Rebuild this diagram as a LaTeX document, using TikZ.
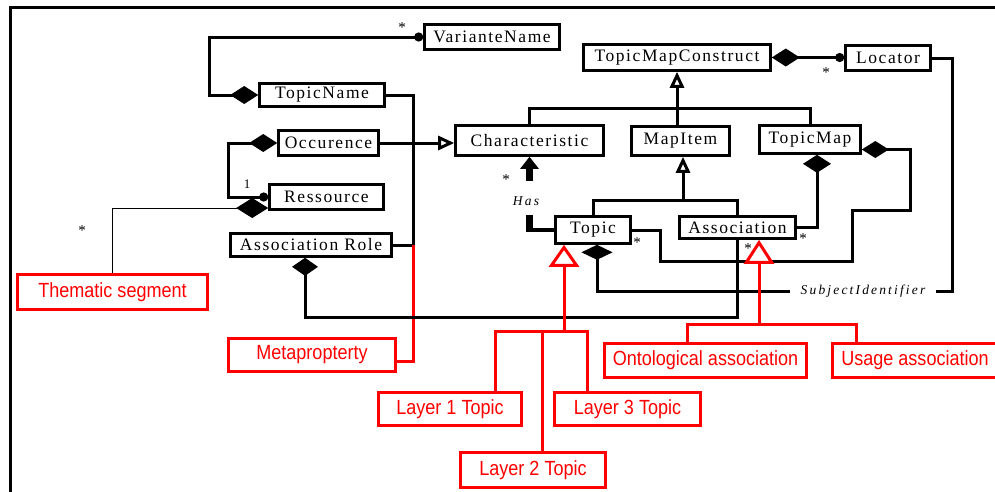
\documentclass[tikz,border=0pt]{standalone}
\usepackage{fontspec}
\setmainfont{Liberation Serif}
\newfontfamily\boxfont[LetterSpace=9]{Liberation Serif}
\newfontfamily\labfont[LetterSpace=16]{Liberation Serif}
\newfontfamily\redfont[FakeStretch=0.88]{Liberation Sans}
\usetikzlibrary{arrows.meta}
\definecolor{rd}{RGB}{255,0,0}
\tikzset{
  cls/.style={draw, line width=2.6pt, fill=white, inner sep=0pt, font=\boxfont\fontsize{17.5}{20}\selectfont},
  rbox/.style={draw=rd, line width=2.6pt, fill=white, text=rd, inner sep=0pt, font=\redfont\fontsize{20.5}{24}\selectfont},
  conn/.style={line width=3pt},
  rconn/.style={draw=rd, line width=3pt},
  star/.style={inner sep=0pt, font=\fontsize{15}{17}\selectfont},
  ital/.style={font=\labfont\itshape\fontsize{13.5}{15}\selectfont},
}
\begin{document}
\begin{tikzpicture}[x=1pt,y=-1pt]
\useasboundingbox (0,0) rectangle (995,491);
\fill[white] (0,0) rectangle (995,491);
\draw[line width=3pt] (10,500) -- (10,7) -- (1000,7);

% black class boxes
\node[cls, minimum width=135pt, minimum height=25pt] (vn) at (492,37) {VarianteName};
\node[cls, minimum width=187pt, minimum height=26pt] (tmc) at (677,57.5) {TopicMapConstruct};
\node[cls, minimum width=85pt, minimum height=25pt] (loc) at (888,58) {Locator};
\node[cls, minimum width=125pt, minimum height=23pt] (tn) at (322,95) {TopicName};
\node[cls, minimum width=100pt, minimum height=25pt] (occ) at (328.5,143) {Occurence};
\node[cls, minimum width=114pt, minimum height=25pt] (res) at (326.5,197) {Ressource};
\node[cls, minimum width=161pt, minimum height=23pt] (ar) at (311,245) {Association Role};
\node[cls, minimum width=148pt, minimum height=30pt] (ch) at (529.5,140.5) {Characteristic};
\node[cls, minimum width=98pt, minimum height=29pt] (mi) at (680.5,141) {MapItem};
\node[cls, minimum width=101pt, minimum height=28pt] (tm) at (810,139.5) {TopicMap};
\node[cls, minimum width=75pt, minimum height=27pt] (tp) at (593,230) {Topic};
\node[cls, minimum width=116pt, minimum height=22pt] (as) at (737.5,227.5) {Association};

% red boxes
\node[rbox, minimum width=190pt, minimum height=35pt] (ts) at (112.5,292) {Thematic segment};
\node[rbox, minimum width=167pt, minimum height=33pt] (mp) at (312,355) {Metapropterty};
\node[rbox, minimum width=143pt, minimum height=33pt] (l1) at (450,409) {Layer 1 Topic};
\node[rbox, minimum width=145pt, minimum height=35pt] (l2) at (533,470) {Layer 2 Topic};
\node[rbox, minimum width=146pt, minimum height=33pt] (l3) at (627.5,409) {Layer 3 Topic};
\node[rbox, minimum width=202pt, minimum height=34pt] (oa) at (705.5,360.5) {Ontological association};
\node[rbox, minimum width=165pt, minimum height=34pt] (ua) at (915,360.5) {Usage association};

% TopicName - VarianteName
\draw[conn,{Diamond[length=28pt,width=18pt]}-{Circle[length=9pt]}] (tn.west) -| (209,37) -- (vn.west);
\node[star] at (402,28) {*};

% TopicName / Association Role -> Metapropterty
\coordinate (bus) at (413,245);
\draw[conn] (tn.east) -| (bus);
\draw[conn] (ar.east) -- (bus);
\draw[rconn] (bus) |- ([yshift=-6pt]mp.east);

% Occurence -> Characteristic
\draw[conn,-{Triangle[fill=white,length=16pt,width=14pt]}] (occ.east) -- (occ.east -| ch.west);

% Occurence - Ressource
\draw[conn,{Diamond[length=28pt,width=18pt]}-{Circle[length=9pt]}] (occ.west) -| (228,197) -- (res.west);
\node[star, font=\fontsize{13}{15}\selectfont] at (247,184) {1};

% Thematic segment
\draw[line width=1pt,-{Diamond[length=32pt,width=20pt]}] (ts.north) |- ([yshift=-11pt]res.west);
\node[star] at (82,231) {*};

% Association Role - Association
\coordinate (arb) at (305,317);
\draw[conn,{Diamond[length=18pt,width=26pt]}-] ([xshift=-6pt]ar.south) -- (arb) -| (as.south);

% Has
\coordinate (h1) at (529.5,181);
\coordinate (h2) at (529.5,215);
\draw[line width=7pt,-{Triangle[length=12pt,width=18pt]}] (h1) -- (ch.south);
\draw[line width=4pt] (tp.west) -| (h2);
\draw[line width=7pt] (h2) -- (529.5,232);
\node[ital] at (526,201) {Has};
\node[star] at (506,180) {*};

% generalisation to TopicMapConstruct
\coordinate (tr) at (677,108);
\draw[conn,-{Triangle[fill=white,length=16pt,width=14pt]}] (tr) -- (tmc.south);
\draw[conn] (ch.north) |- (tr) -| (tm.north);
\draw[conn] (tr) -- (tr |- mi.north);

% generalisation to MapItem
\coordinate (tr2) at (683,200);
\draw[conn,-{Triangle[fill=white,length=16pt,width=14pt]}] (tr2) -- (tr2 |- mi.south);
\draw[conn] (tp.north) |- (tr2) -| (as.north);

% TopicMapConstruct - Locator
\draw[conn,{Diamond[length=28pt,width=18pt]}-{Circle[length=9pt]}] (tmc.east) -- (tmc.east -| loc.west);
\node[star] at (826,73) {*};

% Subject identifier
\draw[conn,{Diamond[length=15pt,width=31pt]}-] ([xshift=4pt]tp.south) |- (952,291) |- (loc.east);
\node[ital, fill=white, inner xsep=11pt, inner ysep=2pt] at (863,291) {SubjectIdentifier};

% Topic - TopicMap
\draw[conn,-{Diamond[length=27pt,width=17pt]}] (tp.east) -| (660,261) -| (852,210) -| (910,149.5) -- ([yshift=-10pt]tm.east);
\node[star] at (637,243) {*};

% Association - TopicMap
\draw[conn,-{Diamond[length=18pt,width=28pt]}] (as.east) -| ([xshift=7pt]tm.south);
\node[star] at (803,239) {*};
\node[star] at (748,249) {*};

% red: Topic layers
\coordinate (rt) at (564,331);
\coordinate (rL) at (495,331);
\coordinate (rM) at (542,331);
\coordinate (rR) at (587,331);
\draw[rconn,-{Triangle[fill=white,length=22pt,width=30pt]}] (rt) -- (rt |- tp.south);
\draw[rconn] (l1.north -| rL) -- (rL) -- (rR) -- (l3.north -| rR);
\draw[rconn] (rM) -- (l2.north -| rM);

% red: Association kinds
\coordinate (ra) at (759,324);
\coordinate (raL) at (687,324);
\coordinate (raR) at (856,324);
\draw[rconn,-{Triangle[fill=white,length=24pt,width=30pt]}] (ra) -- (ra |- as.south);
\draw[rconn] (oa.north -| raL) -- (raL) -- (raR) -- (ua.north -| raR);
\end{tikzpicture}
\end{document}
